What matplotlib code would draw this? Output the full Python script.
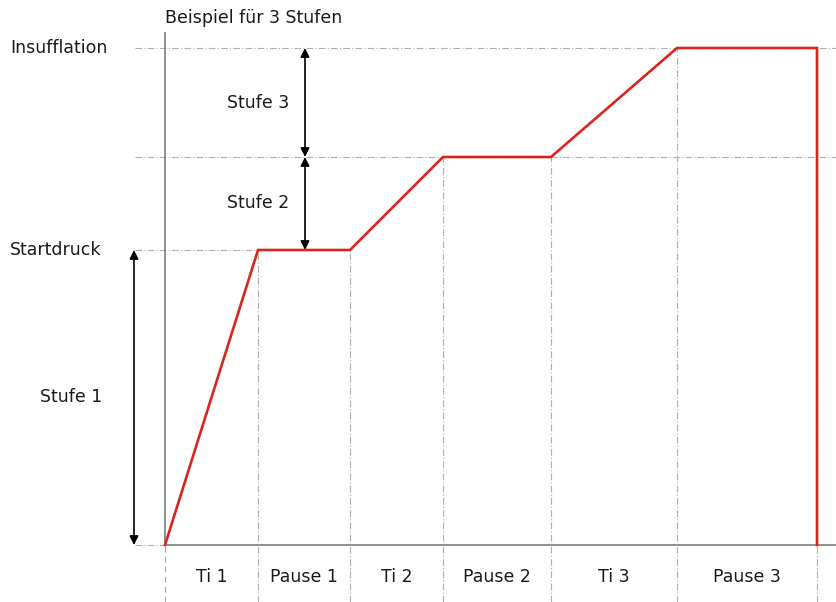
import matplotlib.pyplot as plt

# Zeitgrenzen der Phasen (beliebige Einheiten) und Druckstufen
phase_edges = [0, 93, 185, 278, 386, 512, 652]
phase_labels = ["Ti 1", "Pause 1", "Ti 2", "Pause 2", "Ti 3", "Pause 3"]
level_names = ["Startdruck", "Insufflation"]
levels = [0, 295, 388, 497]          # 0, Startdruck, Stufe 2, Insufflation
stufe_labels = ["Stufe 1", "Stufe 2", "Stufe 3"]

# Druckverlauf: Rampe -> Pause -> Rampe ...
t_curve = phase_edges + [phase_edges[-1]]
p_curve = [levels[0], levels[1], levels[1], levels[2], levels[2],
           levels[3], levels[3], levels[0]]

fig = plt.figure(figsize=(8.37, 6.02), dpi=100)
ax = fig.add_axes([0, 0, 1, 1])
ax.set_xlim(-165, 672)
ax.set_ylim(-57, 545)
ax.axis("off")

grid = dict(color="#b0b0b0", lw=0.8, ls=(0, (6, 2, 1, 2)))
fs = 12.5
tc = "#1a1a1a"

# horizontale Hilfslinien
ax.plot([-30, 0], [0, 0], **grid)
ax.plot([-30, phase_edges[1]], [levels[1]] * 2, **grid)
ax.plot([-30, 672], [levels[2]] * 2, **grid)
ax.plot([-30, 672], [levels[3]] * 2, **grid)

# vertikale Hilfslinien
tops = [levels[1], levels[1], levels[2], levels[2], levels[3], levels[3]]
for x, top in zip(phase_edges[1:], tops):
    ax.plot([x, x], [-57, top], **grid)
ax.plot([0, 0], [-57, 0], color="#aaaaaa", lw=0.8, ls=(0, (5, 4)))

# Achsen
ax.plot([0, 0], [0, 512], color="#888888", lw=1.3)
ax.plot([0, 672], [0, 0], color="#888888", lw=1.3)

# Druckkurve
ax.plot(t_curve, p_curve, color="#d8261f", lw=1.9, solid_joinstyle="miter",
        zorder=5)

# Pfeile für die Stufen
arrow = dict(arrowstyle="<|-|>", color="black", lw=1.2,
             mutation_scale=13, shrinkA=0, shrinkB=0)
ax.annotate("", xy=(-31, levels[1]), xytext=(-31, levels[0]), arrowprops=arrow)
ax.annotate("", xy=(140, levels[2]), xytext=(140, levels[1]), arrowprops=arrow)
ax.annotate("", xy=(140, levels[3]), xytext=(140, levels[2]), arrowprops=arrow)

ax.text(-94, (levels[0] + levels[1]) / 2, stufe_labels[0], ha="center",
        va="center", fontsize=fs, color=tc)
ax.text(93, (levels[1] + levels[2]) / 2 + 1, stufe_labels[1], ha="center",
        va="center", fontsize=fs, color=tc)
ax.text(93, (levels[2] + levels[3]) / 2, stufe_labels[2], ha="center",
        va="center", fontsize=fs, color=tc)

# Level-Beschriftungen
ax.text(-155, levels[1], level_names[0], ha="left", va="center", fontsize=fs,
        color=tc)
ax.text(-155, levels[3], level_names[1], ha="left", va="center", fontsize=fs,
        color=tc)

ax.text(0, 527, "Beispiel für 3 Stufen", ha="left", va="center", fontsize=fs,
        color=tc)

# Phasen-Beschriftungen
for a, b, lbl in zip(phase_edges[:-1], phase_edges[1:], phase_labels):
    ax.text((a + b) / 2, -32, lbl, ha="center", va="center", fontsize=fs,
            color=tc)

fig.savefig("out.png", dpi=100)
